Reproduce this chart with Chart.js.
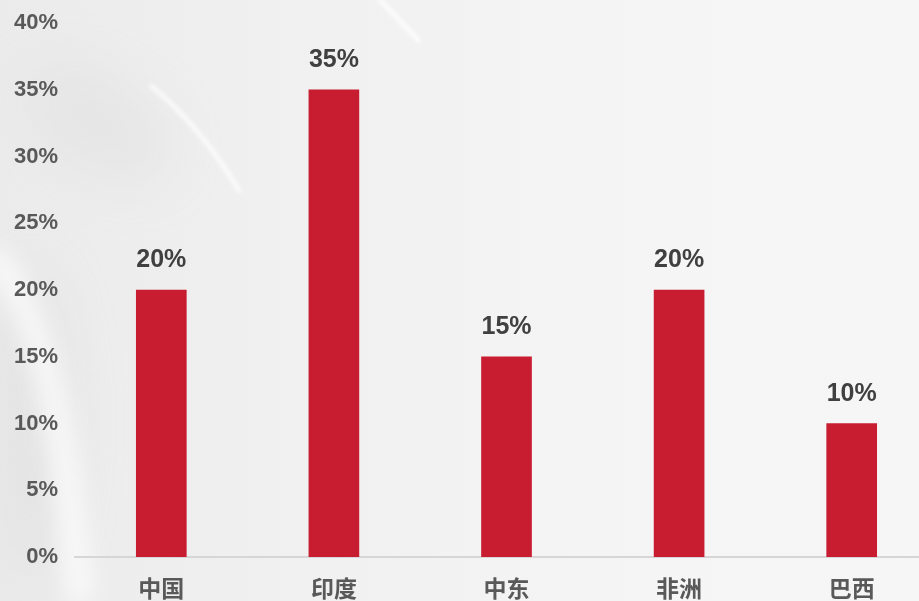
<!DOCTYPE html>
<html lang="zh">
<head>
<meta charset="utf-8">
<title>市场占比</title>
<script src="https://cdn.jsdelivr.net/npm/chart.js@4.4.1/dist/chart.umd.min.js"></script>
<style>
    html, body {
        margin: 0;
        padding: 0;
        width: 919px;
        height: 601px;
        overflow: hidden;
        background: #f4f4f4;
    }
    .chart-box {
        position: relative;
        top: -7px;
        width: 938px;
        height: 608px;
    }
</style>
</head>
<body>
<div class="chart-box">
    <canvas id="shareChart"></canvas>
</div>
<script>
const regions = ['中国', '印度', '中东', '非洲', '巴西'];
const shareValues = [20, 35, 15, 20, 10];
const yTicks = [0, 5, 10, 15, 20, 25, 30, 35, 40];

// 浅灰丝绸背景
const silkBackground = {
    id: 'silkBackground',
    beforeDraw(chart) {
        const ctx = chart.ctx;
        const w = chart.width, h = chart.height;
        ctx.save();
        let g = ctx.createLinearGradient(0, 0, w, 0);
        g.addColorStop(0, '#ebebeb');
        g.addColorStop(0.35, '#f1f1f1');
        g.addColorStop(0.7, '#f5f5f5');
        g.addColorStop(1, '#f6f6f6');
        ctx.fillStyle = g;
        ctx.fillRect(0, 0, w, h);

        ctx.filter = 'blur(26px)';
        ctx.fillStyle = 'rgba(205,205,205,0.22)';
        ctx.beginPath();
        ctx.ellipse(100, 130, 80, 45, 0.6, 0, Math.PI * 2);
        ctx.fill();
        ctx.beginPath();
        ctx.ellipse(30, 430, 40, 160, 0, 0, Math.PI * 2);
        ctx.fill();

        // 左下角亮弧
        ctx.filter = 'blur(12px)';
        ctx.strokeStyle = 'rgba(255,255,255,0.8)';
        ctx.lineWidth = 24;
        ctx.beginPath();
        ctx.moveTo(-10, 260);
        ctx.quadraticCurveTo(60, 330, 80, 610);
        ctx.stroke();

        // 细高光
        ctx.filter = 'blur(2px)';
        ctx.strokeStyle = 'rgba(255,255,255,0.9)';
        ctx.lineWidth = 4;
        ctx.beginPath();
        ctx.moveTo(150, 92);
        ctx.quadraticCurveTo(200, 132, 240, 199);
        ctx.stroke();
        ctx.beginPath();
        ctx.moveTo(378, 5);
        ctx.lineTo(420, 49);
        ctx.stroke();
        ctx.restore();
    }
};

// 柱顶百分比标签
const valueLabels = {
    id: 'valueLabels',
    afterDatasetsDraw(chart) {
        const ctx = chart.ctx;
        const meta = chart.getDatasetMeta(0);
        ctx.save();
        ctx.font = 'bold 25px "Liberation Sans", Arial, sans-serif';
        ctx.fillStyle = '#404040';
        ctx.textAlign = 'center';
        ctx.textBaseline = 'alphabetic';
        meta.data.forEach(function(bar, i) {
            ctx.fillText(shareValues[i] + '%', bar.x, bar.y - 23);
        });
        ctx.restore();
    }
};

document.addEventListener('DOMContentLoaded', function() {
    const ctx = document.getElementById('shareChart').getContext('2d');
    new Chart(ctx, {
        type: 'bar',
        data: {
            labels: regions,
            datasets: [{
                data: shareValues,
                backgroundColor: '#c81c31',
                barThickness: 50,
                borderWidth: 0
            }]
        },
        options: {
            responsive: true,
            maintainAspectRatio: false,
            animation: false,
            layout: {
                padding: { top: 14, right: 0, bottom: 0, left: 0 }
            },
            scales: {
                x: {
                    grid: { display: false, drawTicks: false },
                    border: { display: true, color: '#d6d6d6', width: 2 },
                    ticks: {
                        color: '#595959',
                        padding: 17,
                        font: { family: '"Noto Sans CJK SC", sans-serif', size: 23, weight: 'bold' }
                    },
                    afterFit: function(scale) { scale.height = 44; }
                },
                y: {
                    min: 0,
                    max: 40,
                    grid: { display: false, drawTicks: false },
                    border: { display: false },
                    afterBuildTicks: function(scale) {
                        scale.ticks = yTicks.map(function(v) { return { value: v }; });
                    },
                    ticks: {
                        color: '#595959',
                        padding: 17,
                        font: { family: '"Liberation Sans", Arial, sans-serif', size: 22, weight: 'bold' },
                        callback: function(value) { return value + '%'; }
                    },
                    afterFit: function(scale) { scale.width = 75; }
                }
            },
            plugins: {
                legend: { display: false },
                tooltip: { enabled: false }
            }
        },
        plugins: [silkBackground, valueLabels]
    });
});
</script>
</body>
</html>
